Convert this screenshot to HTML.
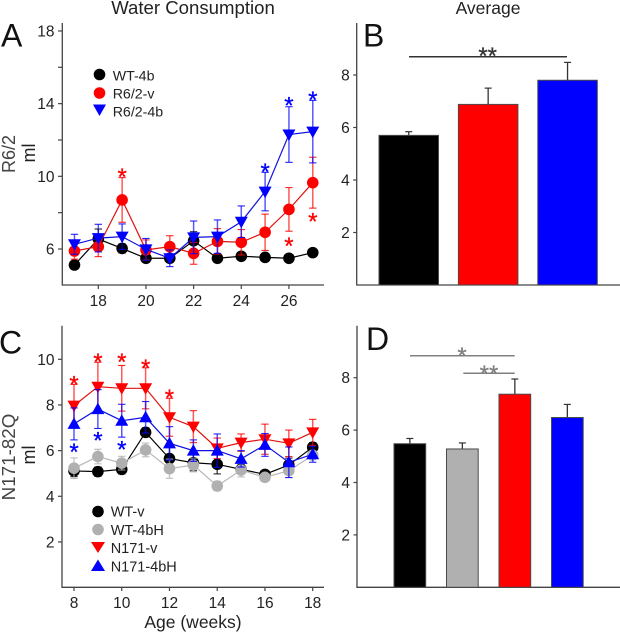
<!DOCTYPE html>
<html lang="en">
<head>
<meta charset="utf-8">
<title>Water Consumption</title>
<style>
html,body{margin:0;padding:0;background:#fff;}
svg{display:block;font-family:"Liberation Sans",Arial,sans-serif;}
</style>
</head>
<body>
<svg id="fig" xmlns="http://www.w3.org/2000/svg" width="620" height="632" viewBox="0 0 620 632">
  <rect width="620" height="632" fill="#fff"/>
  <text x="193" y="14" font-size="18.6" text-anchor="middle" fill="#222">Water Consumption</text>
  <text x="488" y="14" font-size="17.5" text-anchor="middle" fill="#222">Average</text>
  <text x="1" y="46.5" font-size="32" fill="#111">A</text>
  <text x="363" y="46.5" font-size="32" fill="#111">B</text>
  <text x="-1" y="353.5" font-size="32" fill="#111">C</text>
  <text x="366" y="350" font-size="32" fill="#111">D</text>
  <text transform="translate(15,154) rotate(-90)" font-size="18" text-anchor="middle" fill="#444">R6/2</text>
  <text transform="translate(35,153) rotate(-90)" font-size="18" text-anchor="middle" fill="#222">ml</text>
  <text transform="translate(15,457) rotate(-90)" font-size="18.8" text-anchor="middle" fill="#444">N171-82Q</text>
  <text transform="translate(35,455) rotate(-90)" font-size="18" text-anchor="middle" fill="#222">ml</text>
  <text x="193" y="628" font-size="17.5" text-anchor="middle" fill="#222">Age (weeks)</text>

  <g font-size="14.2" fill="#222">
    <circle cx="99.5" cy="74.5" r="5.8" fill="#000"/>
    <text x="112.7" y="80.5">WT-4b</text>
    <circle cx="99.5" cy="93" r="5.8" fill="#f00"/>
    <text x="112.7" y="98.7">R6/2-v</text>
    <polygon points="93,104.5 106,104.5 99.5,116" fill="#00f"/>
    <text x="112.7" y="116.5">R6/2-4b</text>
  </g>
  <g font-size="14.5" fill="#222">
    <circle cx="98" cy="511.5" r="5.8" fill="#000"/>
    <text x="110.7" y="516.7">WT-v</text>
    <circle cx="98" cy="529.5" r="5.8" fill="#b0b0b0"/>
    <text x="110.7" y="535">WT-4bH</text>
    <polygon points="91,542 105,542 98,553" fill="#f00"/>
    <text x="110.7" y="553">N171-v</text>
    <polygon points="91,571 105,571 98,559.5" fill="#00f"/>
    <text x="110.7" y="571.5">N171-4bH</text>
  </g>
</svg>
<script>
// Panel A data
const weeksA = [17,18,19,20,21,22,23,24,25,26,27];
const aWt = [5.12,6.55,6.03,5.49,5.49,6.45,5.49,5.6,5.54,5.49,5.8];
const aWtErr = [0.2,0.55,0.25,0.2,0.2,0.5,0.1,0.2,0.2,0.15,0.1];
const aRed = [5.89,6.13,8.7,5.95,6.13,5.76,6.42,6.37,6.92,8.18,9.65];
const aRedErr = [0.45,0.55,1.23,0.55,0.6,0.6,0.7,0.7,1.0,1.2,1.4];
const aBlue = [6.26,6.6,6.68,5.98,5.49,6.64,6.68,7.5,9.16,12.3,12.46];
const aBlueErr = [0.55,0.76,0.7,0.6,0.46,0.9,0.92,0.87,1.06,1.53,1.72];
const aYMajor = [6,10,14,18];
const aYMinor = [8,12,16];
const aXTicks = [18,20,22,24,26];
const aRedStarWeeks = [19,26,27];
const aRedStarLevels = [10.26,6.46,7.82];
const aBlueStarWeeks = [25,26,27];
const aBlueStarLevels = [10.53,14.2,14.5];

// Panel B data
const bLabels = ['wt-4b','r62-v','r62-4b'];
const bValues = [5.7,6.88,7.8];
const bErrors = [0.14,0.62,0.68];
const bTicks = [2,4,6,8];

// Panel C data
const weeksC = [8,9,10,11,12,13,14,15,16,17,18];
const cWt = [5.11,5.08,5.18,6.8,5.65,5.47,5.4,5.18,4.96,5.37,6.15];
const cWtErr = [0.25,0.2,0.2,0.2,0.5,0.35,0.42,0.2,0.1,0.3,0.2];
const cGray = [5.23,5.74,5.45,6.03,5.21,5.37,4.45,5.15,4.83,5.12,5.8];
const cGrayErr = [0.45,0.32,0.3,0.3,0.42,0.3,0.2,0.3,0.15,0.3,0.15];
const cRed = [7.97,8.8,8.73,8.73,7.46,7.05,6.1,6.35,6.5,6.32,6.8];
const cRedErr = [0.93,1.07,1.0,0.9,0.83,0.7,0.45,0.38,0.66,0.58,0.57];
const cBlue = [7.17,7.82,7.31,7.46,6.32,6.0,6.0,5.64,6.25,5.49,5.84];
const cBlueErr = [0.7,0.85,0.72,0.69,0.73,0.47,0.73,0.36,0.5,0.67,0.35];
const cYTicks = [2,4,6,8,10];
const cXTicks = [8,10,12,14,16,18];
const cRedStarWeeks = [8,9,10,11,12];
const cRedStarLevels = [9.14,10.12,10.12,9.86,8.54];
const cBlueStarWeeks = [8,9,10];
const cBlueStarLevels = [6.18,6.69,6.3];

// Panel D data
const dLabels = ['wt-v','wt-4bh','n171-v','n171-4bh'];
const dValues = [5.48,5.28,7.37,6.48];
const dErrors = [0.2,0.23,0.58,0.5];
const dTicks = [2,4,6,8];

const NS = 'http://www.w3.org/2000/svg';
const fig = document.getElementById('fig');

function make(tag, parent, attrs) {
  const el = document.createElementNS(NS, tag);
  for (const k in attrs) el.setAttribute(k, attrs[k]);
  parent.appendChild(el);
  return el;
}

function group(name) {
  const g = make('g', fig, {});
  
  
  return g;
}

function seg(parent, name, x1, y1, x2, y2, stroke, width, opacity) {
  const l = make('line', parent, {x1: x1, y1: y1, x2: x2, y2: y2, stroke: stroke, 'stroke-width': width, opacity: opacity === undefined ? 1 : opacity});
  
  
  return l;
}

function label(parent, name, x, y, str, anchor, size, fill) {
  const t = make('text', parent, {x: x, y: y, 'text-anchor': anchor, 'font-size': size, fill: fill});
  t.textContent = str;
  
  
  return t;
}

function star(parent, name, cx, cy, text, fill) {
  const t = make('text', parent, {x: cx, y: cy + 13.5, 'text-anchor': 'middle', 'font-size': 24, fill: fill, stroke: fill, 'stroke-width': 0.3});
  t.textContent = text;
  
  
  return t;
}

function marker(parent, name, shape, cx, cy, fill) {
  let m;
  if (shape === 'circle') {
    m = make('circle', parent, {cx: cx, cy: cy, r: 5.8, fill: fill});
  } else if (shape === 'down') {
    m = make('polygon', parent, {points: (cx-6.5)+','+(cy-5)+' '+(cx+6.5)+','+(cy-5)+' '+cx+','+(cy+6.5), fill: fill});
  } else {
    m = make('polygon', parent, {points: (cx-6.5)+','+(cy+5)+' '+(cx+6.5)+','+(cy+5)+' '+cx+','+(cy-6.5), fill: fill});
  }
  
  
  return m;
}

function series(name, xs, vals, errs, color, lineColor, shape, sx, sy) {
  const g = group(name);
  xs.forEach(function (w, i) {
    const x = sx(w), yT = sy(vals[i] + errs[i]), yB = sy(vals[i] - errs[i]);
    seg(g, name + '-error-stem', x, yT, x, yB, color, 1.5, 0.65);
    seg(g, name + '-error-cap-top', x - 3.7, yT, x + 3.7, yT, color, 1.1, 0.85);
    seg(g, name + '-error-cap-bottom', x - 3.7, yB, x + 3.7, yB, color, 1.1, 0.85);
  });
  const pl = make('polyline', g, {fill: 'none', stroke: lineColor, 'stroke-width': 1.2, points: xs.map(function (w, i) { return sx(w) + ',' + sy(vals[i]); }).join(' ')});
  
  
  xs.forEach(function (w, i) {
    marker(g, name + '-point', shape, sx(w), sy(vals[i]), color);
  });
}

function stars(name, weeks, levels, color, sx, sy) {
  const g = group(name);
  weeks.forEach(function (w, i) {
    star(g, name + '-mark', sx(w), sy(levels[i]), '*', color);
  });
}

const AX = '#444';

// ---- Panel A ----
const ax = function (w) { return 98.3 + (w - 18) * 23.83; };
const ay = function (v) { return 249 - (v - 6) * 18.17; };
const axesA = group('panel-a-axes');
seg(axesA, 'panel-a-y-axis', 62.3, 23, 62.3, 285, AX, 1.3);
seg(axesA, 'panel-a-x-axis', 61.7, 285, 324, 285, AX, 1.3);
aYMajor.forEach(function (v) {
  seg(axesA, 'panel-a-y-tick', 58, ay(v), 62.3, ay(v), AX, 1.2);
  label(axesA, 'panel-a-y-tick-label', 54.5, ay(v) + 5.5, String(v), 'end', 15.5, '#222');
});
aYMinor.forEach(function (v) {
  seg(axesA, 'panel-a-y-minor-tick', 58, ay(v), 62.3, ay(v), AX, 1.2);
});
aXTicks.forEach(function (w) {
  seg(axesA, 'panel-a-x-tick', ax(w), 285, ax(w), 289, AX, 1.2);
  label(axesA, 'panel-a-x-tick-label', ax(w), 306, String(w), 'middle', 15.5, '#222');
});
series('series-wt-4b', weeksA, aWt, aWtErr, '#000', '#000', 'circle', ax, ay);
series('series-r62-v', weeksA, aRed, aRedErr, '#f00', '#e01010', 'circle', ax, ay);
series('series-r62-4b', weeksA, aBlue, aBlueErr, '#00f', '#1010e0', 'down', ax, ay);
stars('panel-a-red-significance', aRedStarWeeks, aRedStarLevels, '#f00', ax, ay);
stars('panel-a-blue-significance', aBlueStarWeeks, aBlueStarLevels, '#00f', ax, ay);

// ---- Panel C ----
const cx = function (w) { return 74 + (w - 8) * 23.87; };
const cy = function (v) { return 359.3 + (10 - v) * 22.83; };
const axesC = group('panel-c-axes');
seg(axesC, 'panel-c-y-axis', 62, 325.7, 62, 587.3, AX, 1.3);
seg(axesC, 'panel-c-x-axis', 61.4, 587.3, 324, 587.3, AX, 1.3);
cYTicks.forEach(function (v) {
  seg(axesC, 'panel-c-y-tick', 58, cy(v), 62, cy(v), AX, 1.2);
  label(axesC, 'panel-c-y-tick-label', 54.5, cy(v) + 5.5, String(v), 'end', 15.5, '#222');
});
cXTicks.forEach(function (w) {
  seg(axesC, 'panel-c-x-tick', cx(w), 587.3, cx(w), 591, AX, 1.2);
  label(axesC, 'panel-c-x-tick-label', cx(w), 608, String(w), 'middle', 15.5, '#222');
});
series('series-wt-v', weeksC, cWt, cWtErr, '#000', '#000', 'circle', cx, cy);
series('series-wt-4bh', weeksC, cGray, cGrayErr, '#b0b0b0', '#b8b8b8', 'circle', cx, cy);
series('series-n171-v', weeksC, cRed, cRedErr, '#f00', '#e01010', 'down', cx, cy);
series('series-n171-4bh', weeksC, cBlue, cBlueErr, '#00f', '#1010e0', 'up', cx, cy);
stars('panel-c-red-significance', cRedStarWeeks, cRedStarLevels, '#f00', cx, cy);
stars('panel-c-blue-significance', cBlueStarWeeks, cBlueStarLevels, '#00f', cx, cy);

// ---- Bar panels ----
function barPanel(prefix, labels, values, errors, ticks, colors, left, width, gap, base, scale, axisX, axisTop) {
  const y = function (v) { return base - v * scale; };
  const g = group(prefix + '-axes');
  seg(g, prefix + '-y-axis', axisX, axisTop, axisX, base, AX, 1.3);
  seg(g, prefix + '-x-axis', axisX - 0.6, base, 620, base, AX, 1.3);
  ticks.forEach(function (v) {
    seg(g, prefix + '-y-tick', axisX - 3.5, y(v), axisX, y(v), AX, 1.2);
    label(g, prefix + '-y-tick-label', axisX - 7, y(v) + 5.5, String(v), 'end', 15.5, '#222');
  });
  const bars = group(prefix + '-bars');
  values.forEach(function (v, i) {
    const x = left + i * gap, mid = x + width / 2;
    seg(bars, prefix + '-error-stem-' + labels[i], mid, y(v), mid, y(v + errors[i]), '#333', 1.3);
    seg(bars, prefix + '-error-cap-' + labels[i], mid - 3.5, y(v + errors[i]), mid + 3.5, y(v + errors[i]), '#333', 1.2);
    const r = make('rect', bars, {x: x, y: y(v), width: width, height: base - y(v), fill: colors[i], stroke: '#4a4a4a', 'stroke-width': 1});
    
    
  });
}
barPanel('panel-b', bLabels, bValues, bErrors, bTicks, ['#000', '#f00', '#00f'], 379, 59.5, 79.4, 285, 26.25, 356.7, 23);
barPanel('panel-d', dLabels, dValues, dErrors, dTicks, ['#000', '#b0b0b0', '#f00', '#00f'], 394, 31.7, 52.5, 587.3, 26.2, 357, 325.7);

const sigB = group('panel-b-significance');
seg(sigB, 'panel-b-significance-bar', 409, 56.7, 567, 56.7, '#333', 1.5);
star(sigB, 'panel-b-significance-stars', 487.7, 50.5, '**', '#333');

const sigD = group('panel-d-significance');
seg(sigD, 'panel-d-significance-bar-wide', 410, 355.7, 514.7, 355.7, '#808080', 1.5);
star(sigD, 'panel-d-significance-star', 462, 350.5, '*', '#808080');
seg(sigD, 'panel-d-significance-bar-narrow', 463.3, 373.3, 514.7, 373.3, '#808080', 1.5);
star(sigD, 'panel-d-significance-stars', 489, 368.5, '**', '#808080');
</script>
</body>
</html>
